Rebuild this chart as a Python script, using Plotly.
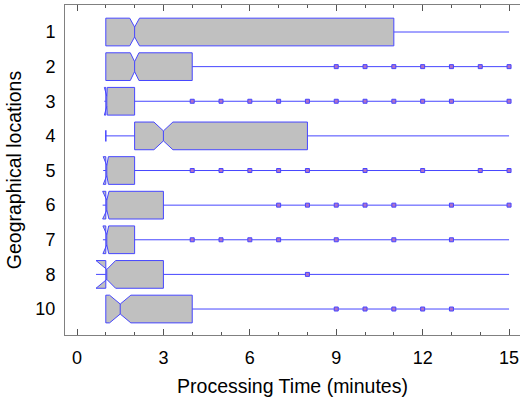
import plotly.graph_objects as go

# ---- data ----
locations = ["1", "2", "3", "4", "5", "6", "7", "8", "10"]
q1 = [1, 1, 1, 2, 1, 1, 1, 1, 1]
median = [2, 2, 1, 3, 1, 1, 1, 1, 1.5]
q3 = [11, 4, 2, 8, 2, 3, 2, 3, 4]
lowerfence = [1, 1, 1, 1, 1, 1, 1, 1, 1]
upperfence = [15, 15, 15, 15, 15, 15, 15, 15, 15]
notchspan = [0.17, 0.15, 0.05, 0.33, 0.09, 0.11, 0.1, 0.34, 0.37]

outliers_1 = []
outliers_2 = [9, 10, 11, 12, 13, 14, 15]
outliers_3 = [4, 5, 6, 7, 8, 9, 10, 11, 12, 13, 15]
outliers_4 = []
outliers_5 = [4, 5, 6, 7, 8, 10, 12, 14, 15]
outliers_6 = [7, 8, 9, 10, 11, 13, 15]
outliers_7 = [4, 5, 6, 7, 9, 11, 13]
outliers_8 = [8]
outliers_10 = [9, 10, 11, 12, 13]
outliers = [outliers_1, outliers_2, outliers_3, outliers_4, outliers_5,
            outliers_6, outliers_7, outliers_8, outliers_10]

x_ticks = [0, 3, 6, 9, 12, 15]

BLUE = "#4646ff"
FONT = "Liberation Sans, Arial, sans-serif"

fig = go.Figure()
fig.add_trace(go.Box(
    y=locations, q1=q1, median=median, q3=q3,
    lowerfence=lowerfence, upperfence=upperfence, notchspan=notchspan,
    orientation="h", notched=True, notchwidth=0.32,
    fillcolor="#c0c0c0", line=dict(color=BLUE, width=1),
    width=0.8, whiskerwidth=0, boxpoints=False, showlegend=False,
    hoverinfo="skip",
))

# lower whisker cap for location 4 (the only box with a lower whisker)
cap_x = [lf for lf, a in zip(lowerfence, q1) if lf < a]
cap_y = [loc for loc, lf, a in zip(locations, lowerfence, q1) if lf < a]
fig.add_trace(go.Scatter(
    x=cap_x, y=cap_y, mode="markers",
    marker=dict(symbol="line-ns", size=8, line=dict(color=BLUE, width=1.5)),
    showlegend=False, hoverinfo="skip",
))

ox, oy = [], []
for loc, vals in zip(locations, outliers):
    for v in vals:
        ox.append(v)
        oy.append(loc)
fig.add_trace(go.Scatter(
    x=ox, y=oy, mode="markers",
    marker=dict(symbol="square", size=4, color="#b070c8",
                line=dict(color=BLUE, width=1)),
    showlegend=False, hoverinfo="skip",
))

fig.update_layout(
    width=520, height=402,
    margin=dict(l=65, r=0, t=5, b=67),
    paper_bgcolor="white", plot_bgcolor="white",
    font=dict(family=FONT, size=18, color="black"),
    xaxis=dict(
        range=[-0.417, 15.38],
        tickvals=x_ticks, ticks="inside", ticklen=6, tickcolor="#555555",
        showline=True, linecolor="#808080", linewidth=1, mirror="allticks",
        showgrid=False, zeroline=False,
        minor=dict(dtick=1, tick0=0, ticks="inside", ticklen=3, tickcolor="#555555"),
        ticklabelstandoff=6,
        title=dict(text="Processing Time (minutes)", font=dict(size=19.5), standoff=12),
        tickfont=dict(size=18),
    ),
    yaxis=dict(
        type="category", categoryorder="array", categoryarray=locations,
        range=[8.75, -0.78],
        showline=True, linecolor="#808080", linewidth=1, mirror=False,
        showgrid=False, zeroline=False, ticks="",
        ticklabelstandoff=5,
        title=dict(text="Geographical locations", font=dict(size=19.5), standoff=8),
        tickfont=dict(size=18),
    ),
)

fig.write_html("out.html", config={"displayModeBar": False})
